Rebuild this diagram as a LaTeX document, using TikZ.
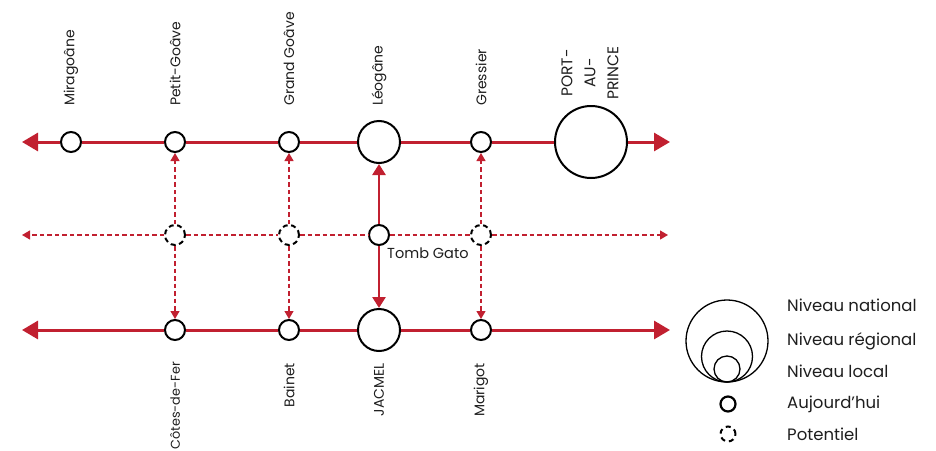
\documentclass[tikz,border=0pt]{standalone}
\usepackage{fontspec}
\setmainfont{Poppins}
\usetikzlibrary{arrows.meta}
\definecolor{route}{RGB}{193,32,48}
\definecolor{ink}{RGB}{30,30,30}
\begin{document}
\begin{tikzpicture}[x=1pt,y=-1pt,
  town/.style={circle,draw=black,fill=white,line width=2pt,inner sep=0pt,minimum size=20pt},
  bigtown/.style={town,minimum size=42pt},
  capital/.style={town,minimum size=72pt},
  maybetown/.style={circle,draw=black,fill=white,line width=2pt,dash pattern=on 5pt off 3.5pt,inner sep=0pt,minimum size=20pt},
  mainroad/.style={draw=route,line width=3pt},
  mainend/.style={-{Triangle[length=16pt,width=18pt]}},
  linkroad/.style={draw=route,line width=2.6pt,-{Triangle[length=11pt,width=13pt]}},
  planroad/.style={draw=route,line width=1.2pt,dash pattern=on 4.5pt off 3pt},
  plantip/.style={-{Triangle[length=8pt,width=9pt]}},
  vname/.style={rotate=90,inner sep=0pt,text=ink,font=\fontsize{14}{17}\selectfont},
  legtext/.style={anchor=west,inner sep=0pt,text=ink,font=\fontsize{16.5}{20}\selectfont},
  ring/.style={circle,draw=black,line width=1.3pt,inner sep=0pt}
]
\useasboundingbox (0,0) rectangle (936,450);

% coast road (north)
\node[town]    (mira)  at (71,142)  {};
\node[town]    (petit) at (175,142) {};
\node[town]    (grand) at (289,142) {};
\node[bigtown] (leo)   at (379,142) {};
\node[town]    (gres)  at (481,142) {};
\node[capital] (pap)   at (591,142) {};
\coordinate (nw) at (22,142);
\coordinate (ne) at (670,142);

% planned middle road
\node[maybetown] (m1)   at (175,235) {};
\node[maybetown] (m2)   at (289,235) {};
\node[town]      (tomb) at (379,235) {};
\node[maybetown] (m3)   at (481,235) {};
\coordinate (mw) at (22,235);
\coordinate (me) at (668,235);

% south coast road
\node[town]    (cotes)  at (175,330) {};
\node[town]    (bainet) at (289,330) {};
\node[bigtown] (jac)    at (379,330) {};
\node[town]    (mari)   at (481,330) {};
\coordinate (sw) at (22,330);
\coordinate (se) at (670,330);

% roads
\draw[mainroad,mainend] (mira) -- (nw);
\draw[mainroad] (mira) -- (petit) -- (grand) -- (leo) -- (gres) -- (pap);
\draw[mainroad,mainend] (pap) -- (ne);

\draw[mainroad,mainend] (cotes) -- (sw);
\draw[mainroad] (cotes) -- (bainet) -- (jac) -- (mari);
\draw[mainroad,mainend] (mari) -- (se);

\draw[planroad,plantip] (m1) -- (mw);
\draw[planroad] (m1) -- (m2);
\draw[planroad] (m2) -- (tomb);
\draw[planroad] (tomb) -- (m3);
\draw[planroad,plantip] (m3) -- (me);

\draw[linkroad] (tomb) -- (leo);
\draw[linkroad] (tomb) -- (jac);

\foreach \m/\n/\s in {m1/petit/cotes, m2/grand/bainet, m3/gres/mari}{
  \draw[planroad,plantip] (\m) -- (\n);
  \draw[planroad,plantip] (\m) -- (\s);
}

% town names
\node[vname,anchor=west] (tmira)  at (71,106)  {Miragoâne};
\node[vname,anchor=west] (tpetit) at (175,106) {Petit-Goâve};
\node[vname,anchor=west] (tgrand) at (289,106) {Grand Goâve};
\node[vname,anchor=west] (tleo)   at (379,106) {Léogâne};
\node[vname,anchor=west] (tgres)  at (481,106) {Gressier};
\node[vname,align=center,font=\fontsize{15.5}{23}\selectfont] (tpap) at (590,73) {PORT-\\AU-\\PRINCE};
\node[vname,anchor=east,font=\fontsize{12.8}{16}\selectfont] (tcotes) at (175,362) {Côtes-de-Fer};
\node[vname,anchor=east] (tbainet) at (289,363) {Bainet};
\node[vname,anchor=east] (tjac)    at (379,363) {JACMEL};
\node[vname,anchor=east] (tmari)   at (481,363) {Marigot};
\node[anchor=west,inner sep=0pt,text=ink,font=\fontsize{14.5}{17}\selectfont] (ttomb) at (387,253) {Tomb Gato};

% legend
\node[ring,minimum size=82pt] (lnat) at (727,341) {};
\node[ring,minimum size=51pt] (lreg) at (727,356.5) {};
\node[ring,minimum size=26pt] (lloc) at (727,369) {};
\node[circle,draw=black,line width=2.2pt,inner sep=0pt,minimum size=15pt] (lnow) at (728,404) {};
\node[circle,draw=black,line width=2pt,dash pattern=on 5pt off 4pt,inner sep=0pt,minimum size=15pt] (lpot) at (728,434) {};
\node[legtext] (tnat) at (787,305) {Niveau national};
\node[legtext] (treg) at (787,341) {Niveau régional};
\node[legtext] (tloc) at (787,371) {Niveau local};
\node[legtext] (tnow) at (787,404) {Aujourd'hui};
\node[legtext] (tpot) at (787,434) {Potentiel};
\end{tikzpicture}
\end{document}
